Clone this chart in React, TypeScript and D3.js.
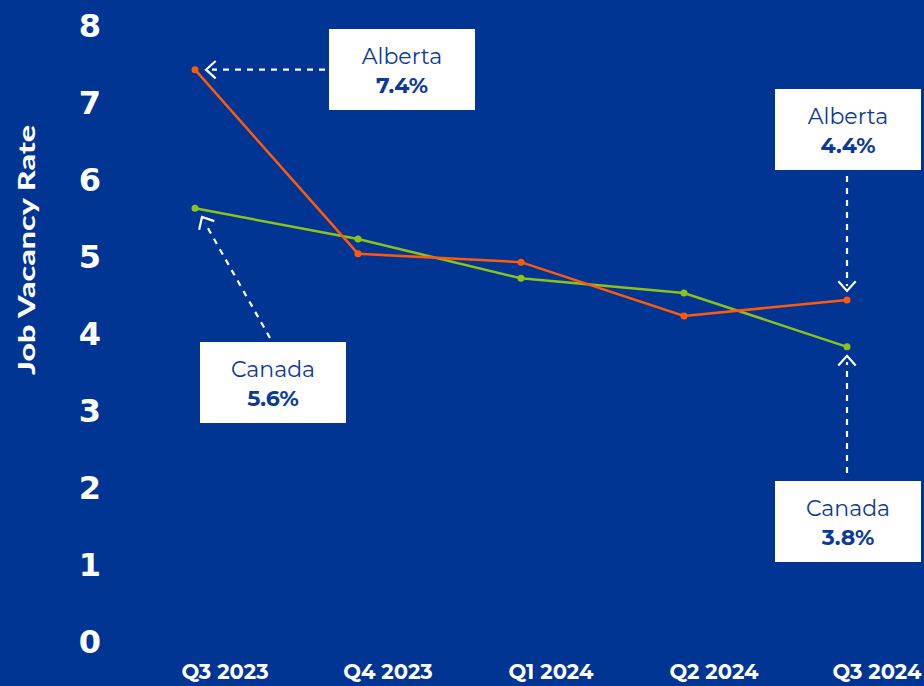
import React from "react";
import * as d3 from "d3";

const categories = ["Q3 2023", "Q4 2023", "Q1 2024", "Q2 2024", "Q3 2024"];
const alberta = [7.42, 5.03, 4.92, 4.22, 4.43];
const canada = [5.62, 5.22, 4.71, 4.52, 3.82];
const yTicks = [0, 1, 2, 3, 4, 5, 6, 7, 8];

const W = 924;
const H = 686;
const BG = "#003594";
const ORANGE = "#FF5A0A";
const GREEN = "#8CC21A";
const TEXTBLUE = "#0B3A9C";

export default function App() {
  const x = d3.scalePoint<string>().domain(categories).range([195, 847]);
  const y = d3.scaleLinear().domain([0, 8]).range([641, 25]);
  const line = d3
    .line<number>()
    .x((_, i) => x(categories[i]) as number)
    .y((d) => y(d));

  const arrowHead = (tx: number, ty: number, angleDeg: number) => {
    const a = (angleDeg * Math.PI) / 180;
    const len = 13;
    const spread = (42 * Math.PI) / 180;
    const p1 = [tx - len * Math.cos(a - spread), ty - len * Math.sin(a - spread)];
    const p2 = [tx - len * Math.cos(a + spread), ty - len * Math.sin(a + spread)];
    return `M${p1[0]},${p1[1]}L${tx},${ty}L${p2[0]},${p2[1]}`;
  };

  const box = (bx: number, by: number, name: string, val: string) => (
    <g>
      <rect x={bx} y={by} width={146} height={81} fill="#fff" />
      <text x={bx + 73} y={by + 35} textAnchor="middle" fontFamily="Montserrat, 'Open Sans', sans-serif" fontSize={22} fill={TEXTBLUE}>
        {name}
      </text>
      <text x={bx + 73} y={by + 64} textAnchor="middle" fontFamily="Montserrat, 'Open Sans', sans-serif" fontWeight={700} fontSize={22} fill={TEXTBLUE}>
        {val}
      </text>
    </g>
  );

  const x0 = x(categories[0]) as number;
  const x4 = x(categories[4]) as number;
  const canTip = [202, 217];
  const canStart = [270, 338];

  return (
    <svg width={W} height={H} style={{ position: "absolute", left: 0, top: 0, display: "block" }}>
      <rect x={0} y={0} width={W} height={H} fill={BG} />
      <text
        transform={`translate(35,250) rotate(-90)`}
        textAnchor="middle"
        fontFamily="Lato, sans-serif"
        fontWeight={900}
        fontSize={23}
        textLength={250}
        lengthAdjust="spacingAndGlyphs"
        fill="#fff"
      >
        Job Vacancy Rate
      </text>
      {yTicks.map((t) => (
        <text
          key={t}
          x={101}
          y={y(t)}
          dy="0.36em"
          textAnchor="end"
          fontFamily="'DejaVu Sans', sans-serif"
          fontWeight={700}
          fontSize={32}
          fill="#fff"
        >
          {t}
        </text>
      ))}
      {categories.map((c) => (
        <text
          key={c}
          x={(x(c) as number) + 30}
          y={679}
          textAnchor="middle"
          fontFamily="Montserrat, 'Open Sans', sans-serif"
          fontWeight={700}
          fontSize={21}
          fill="#fff"
        >
          {c}
        </text>
      ))}
      <path d={line(canada) || ""} fill="none" stroke={GREEN} strokeWidth={2.5} />
      <path d={line(alberta) || ""} fill="none" stroke={ORANGE} strokeWidth={2.5} />
      {canada.map((v, i) => (
        <circle key={"c" + i} cx={x(categories[i]) as number} cy={y(v)} r={3.5} fill={GREEN} />
      ))}
      {alberta.map((v, i) => (
        <circle key={"a" + i} cx={x(categories[i]) as number} cy={y(v)} r={3.5} fill={ORANGE} />
      ))}

      <g stroke="#fff" strokeWidth={2.2} fill="none">
        <line x1={325} y1={y(alberta[0])} x2={212} y2={y(alberta[0])} strokeDasharray="6,6" />
        <path d={arrowHead(x0 + 11, y(alberta[0]), 180)} />
        <line x1={x4} y1={176} x2={x4} y2={286} strokeDasharray="6,6" />
        <path d={arrowHead(x4, y(alberta[4]) - 9, 90)} />
        <line x1={canStart[0]} y1={canStart[1]} x2={canTip[0] + 3} y2={canTip[1] + 6} strokeDasharray="6,6" />
        <path d={arrowHead(canTip[0], canTip[1], (Math.atan2(canTip[1] - canStart[1], canTip[0] - canStart[0]) * 180) / Math.PI)} />
        <line x1={x4} y1={473} x2={x4} y2={362} strokeDasharray="6,6" />
        <path d={arrowHead(x4, y(canada[4]) + 9, -90)} />
      </g>
      {box(329, 29, "Alberta", "7.4%")}
      {box(775, 89, "Alberta", "4.4%")}
      {box(200, 342, "Canada", "5.6%")}
      {box(775, 481, "Canada", "3.8%")}
    </svg>
  );
}
